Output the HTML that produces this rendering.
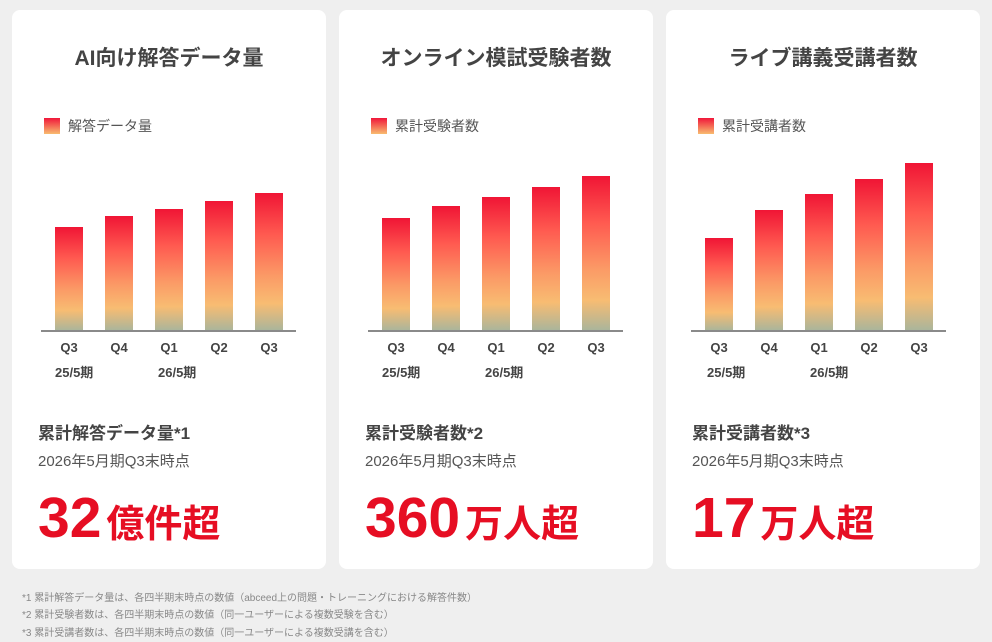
<!DOCTYPE html>
<html><head><meta charset="utf-8"><style>
*{margin:0;padding:0;box-sizing:border-box}
body{width:992px;height:642px;background:#efefef;font-family:"Liberation Sans","Noto Sans CJK JP",sans-serif;position:relative;overflow:hidden;color:#444}
.card{position:absolute;top:10px;width:314px;height:559px;background:#fff;border-radius:8px}
.t{position:absolute;top:32px;left:0;width:100%;text-align:center;font-size:21px;font-weight:bold;color:#444}
.lg{position:absolute;top:107px;left:32px;font-size:14px;color:#555;line-height:18px}
.lg i{display:inline-block;width:16px;height:16px;vertical-align:-3px;margin-right:8px;background:linear-gradient(#f0173a,#f8bc70)}
.bar{position:absolute;width:28px;background:linear-gradient(#f01535 0%,#ff5a50 30%,#fb9a66 60%,#f8bc72 80%,#a8b59c 100%)}
.ax{position:absolute;top:320px;height:2px;width:255px;background:#8a8a8a}
.q{position:absolute;top:330px;font-size:13px;font-weight:bold;color:#444;width:40px;text-align:center}
.p{position:absolute;top:352px;font-size:13px;font-weight:bold;color:#444}
.h{position:absolute;top:409px;left:26px;font-size:17px;font-weight:bold;color:#444}
.s{position:absolute;top:440px;left:26px;font-size:15px;color:#555}
.n{position:absolute;top:475px;left:26px;color:#e60e23;font-weight:bold;white-space:nowrap}
.n b{font-size:57px}
.n span{font-size:38px;margin-left:5px}
.f{position:absolute;left:22px;font-size:10px;color:#888}
</style></head><body>
<div class="card" style="left:12px">
<div class="t">AI向け解答データ量</div>
<div class="lg"><i></i>解答データ量</div>
<div class="bar" style="left:43px;top:217px;height:104px"></div>
<div class="bar" style="left:93px;top:206px;height:115px"></div>
<div class="bar" style="left:143px;top:199px;height:122px"></div>
<div class="bar" style="left:193px;top:191px;height:130px"></div>
<div class="bar" style="left:243px;top:183px;height:138px"></div>
<div class="ax" style="left:29px"></div>
<div class="q" style="left:37px">Q3</div><div class="q" style="left:87px">Q4</div><div class="q" style="left:137px">Q1</div><div class="q" style="left:187px">Q2</div><div class="q" style="left:237px">Q3</div>
<div class="p" style="left:43px">25/5期</div><div class="p" style="left:146px">26/5期</div>
<div class="h">累計解答データ量*1</div>
<div class="s">2026年5月期Q3末時点</div>
<div class="n"><b>32</b><span>億件超</span></div>
</div>
<div class="card" style="left:339px">
<div class="t">オンライン模試受験者数</div>
<div class="lg"><i></i>累計受験者数</div>
<div class="bar" style="left:43px;top:208px;height:113px"></div>
<div class="bar" style="left:93px;top:196px;height:125px"></div>
<div class="bar" style="left:143px;top:187px;height:134px"></div>
<div class="bar" style="left:193px;top:177px;height:144px"></div>
<div class="bar" style="left:243px;top:166px;height:155px"></div>
<div class="ax" style="left:29px"></div>
<div class="q" style="left:37px">Q3</div><div class="q" style="left:87px">Q4</div><div class="q" style="left:137px">Q1</div><div class="q" style="left:187px">Q2</div><div class="q" style="left:237px">Q3</div>
<div class="p" style="left:43px">25/5期</div><div class="p" style="left:146px">26/5期</div>
<div class="h">累計受験者数*2</div>
<div class="s">2026年5月期Q3末時点</div>
<div class="n"><b>360</b><span>万人超</span></div>
</div>
<div class="card" style="left:666px">
<div class="t">ライブ講義受講者数</div>
<div class="lg"><i></i>累計受講者数</div>
<div class="bar" style="left:39px;top:228px;height:93px"></div>
<div class="bar" style="left:89px;top:200px;height:121px"></div>
<div class="bar" style="left:139px;top:184px;height:137px"></div>
<div class="bar" style="left:189px;top:169px;height:152px"></div>
<div class="bar" style="left:239px;top:153px;height:168px"></div>
<div class="ax" style="left:25px"></div>
<div class="q" style="left:33px">Q3</div><div class="q" style="left:83px">Q4</div><div class="q" style="left:133px">Q1</div><div class="q" style="left:183px">Q2</div><div class="q" style="left:233px">Q3</div>
<div class="p" style="left:41px">25/5期</div><div class="p" style="left:144px">26/5期</div>
<div class="h">累計受講者数*3</div>
<div class="s">2026年5月期Q3末時点</div>
<div class="n"><b>17</b><span>万人超</span></div>
</div>
<div class="f" style="top:589px">*1 累計解答データ量は、各四半期末時点の数値（abceed上の問題・トレーニングにおける解答件数）</div>
<div class="f" style="top:606px">*2 累計受験者数は、各四半期末時点の数値（同一ユーザーによる複数受験を含む）</div>
<div class="f" style="top:624px">*3 累計受講者数は、各四半期末時点の数値（同一ユーザーによる複数受講を含む）</div>
</body></html>
